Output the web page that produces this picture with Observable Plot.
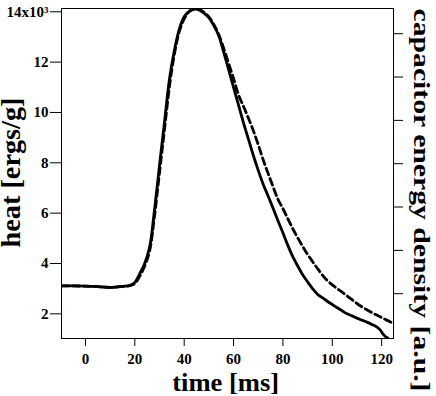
<!DOCTYPE html>
<html><head><meta charset="utf-8">
<script src="https://cdn.jsdelivr.net/npm/d3@7"></script>
<script src="https://cdn.jsdelivr.net/npm/@observablehq/plot@0.6"></script>
<style>body{margin:0;background:#fff}</style>
</head><body><div id="chart"></div>
<script>
// heat (solid curve), in units of 10^3 ergs/g
const timeHeat = [-9.7, -5, 0, 5, 10, 15, 18, 20, 22, 24, 26, 28, 30, 32, 34, 36, 38, 40, 42, 44, 46, 48, 50, 52, 54, 56, 58, 60, 62, 64, 66, 68, 70, 72, 74, 76, 78, 80, 82, 84, 86, 88, 90, 92, 94, 96, 98, 100, 102, 104, 106, 108, 110, 112, 114, 116, 118, 119.5, 120.5, 121.5, 122.4];
const heat = [3.11, 3.11, 3.10, 3.08, 3.05, 3.09, 3.13, 3.25, 3.6, 4.0, 4.65, 6.15, 7.9, 9.6, 11.3, 12.45, 13.3, 13.8, 14.02, 14.12, 14.07, 13.95, 13.77, 13.45, 13.05, 12.4, 11.7, 11.0, 10.3, 9.6, 8.95, 8.3, 7.7, 7.15, 6.68, 6.2, 5.7, 5.22, 4.72, 4.27, 3.9, 3.55, 3.27, 3.0, 2.78, 2.64, 2.5, 2.37, 2.24, 2.12, 2.0, 1.92, 1.83, 1.75, 1.67, 1.58, 1.48, 1.35, 1.2, 1.1, 1.05];

// capacitor energy density (dashed curve), read against the left axis
const timeCap = [-9.7, -5, 0, 5, 10, 15, 18, 20, 22, 24, 26, 28, 30, 32, 34, 36, 38, 40, 42, 44, 46, 48, 50, 52, 54, 56, 58, 60, 62, 64, 66, 68, 70, 72, 74, 76, 78, 80, 82, 84, 86, 88, 90, 92, 94, 96, 98, 100, 102, 104, 106, 108, 110, 112, 114, 116, 118, 120, 122, 124.8];
const capacitor = [3.11, 3.11, 3.10, 3.08, 3.05, 3.09, 3.12, 3.2, 3.5, 3.9, 4.5, 5.9, 7.6, 9.3, 11.0, 12.3, 13.2, 13.72, 14.0, 14.1, 14.1, 13.98, 13.8, 13.5, 13.1, 12.55, 11.95, 11.35, 10.7, 10.25, 9.78, 9.28, 8.72, 8.12, 7.58, 7.05, 6.55, 6.18, 5.78, 5.38, 5.02, 4.68, 4.36, 4.08, 3.8, 3.54, 3.32, 3.15, 3.0, 2.86, 2.71, 2.56, 2.41, 2.28, 2.16, 2.05, 1.95, 1.85, 1.75, 1.62];

const xTicks = [0, 20, 40, 60, 80, 100, 120];
const yTicks = [2, 4, 6, 8, 10, 12, 14];
const capTicks = [1, 2, 3, 4, 5, 6, 7]; // a.u. on the right axis
const CAP_OFFSET = 1.0785, CAP_SCALE = 1.7215; // a.u. -> left-axis units

const xLabel = "time [ms]";
const yLabel = "heat [ergs/g]";
const y2Label = "capacitor energy density [a.u.]";

const solid = timeHeat.map((t, i) => ({t, v: heat[i]}));
const dashed = timeCap.map((t, i) => ({t, v: capacitor[i]}));

const chart = Plot.plot({
  width: 436, height: 396,
  marginLeft: 61, marginRight: 43, marginTop: 8, marginBottom: 58,
  style: {fontFamily: "'Liberation Serif', 'Times New Roman', serif", fontWeight: "bold", fontSize: "15px", background: "white", color: "black"},
  x: {domain: [-9.7, 124.8]},
  y: {domain: [1.02, 14.13]},
  marks: [
    Plot.line(dashed, {x: "t", y: "v", stroke: "black", strokeWidth: 2.8, strokeDasharray: "7,4", curve: "catmull-rom", clip: true}),
    Plot.line(solid, {x: "t", y: "v", stroke: "black", strokeWidth: 2.8, curve: "catmull-rom", clip: true}),
    Plot.frame({stroke: "black", strokeWidth: 1}),
    Plot.axisX({ticks: xTicks, tickSize: 8, tickPadding: 7, label: null, fontSize: 15}),
    Plot.axisY({ticks: yTicks, tickSize: 11, tickPadding: 2, label: null, fontSize: 15,
      tickFormat: d => d === 14 ? "14x10³" : String(d)}),
    Plot.axisY({anchor: "right", ticks: capTicks.map(a => CAP_OFFSET + CAP_SCALE * a), tickSize: 9, tickFormat: () => "", label: null}),
    Plot.text([yLabel], {text: d => d, frameAnchor: "left", rotate: -90, dx: -41.5, dy: 74, textAnchor: "start", lineAnchor: "bottom", fontSize: 27}),
    Plot.text([xLabel], {text: d => d, frameAnchor: "bottom", dx: -55.3, dy: 52, textAnchor: "start", lineAnchor: "bottom", fontSize: 26}),
    Plot.text([y2Label], {text: d => d, frameAnchor: "right", rotate: 90, dx: 20, dy: -165, textAnchor: "start", lineAnchor: "bottom", fontSize: 24})
  ]
});
const fit = {[yLabel]: 150, [xLabel]: 107, [y2Label]: 383};
chart.querySelectorAll("text").forEach(el => {
  const L = fit[el.textContent];
  if (L) { el.setAttribute("textLength", L); el.setAttribute("lengthAdjust", "spacingAndGlyphs"); }
});
document.getElementById("chart").appendChild(chart);
</script>
</body></html>
